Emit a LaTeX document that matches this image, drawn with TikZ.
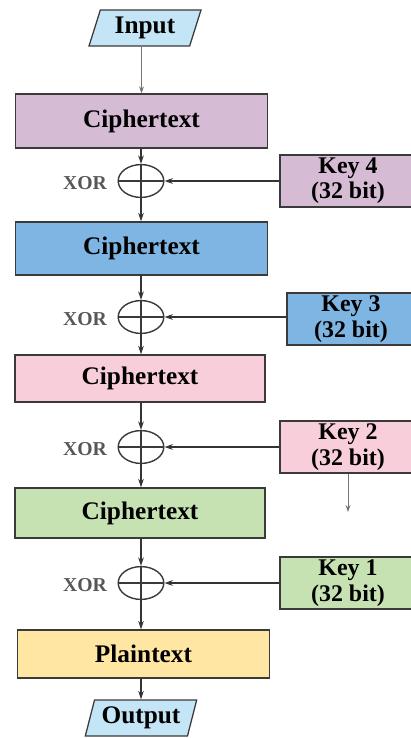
\documentclass[tikz,border=0pt]{standalone}
\usepackage{fontspec}
\setmainfont{Liberation Serif}
\usetikzlibrary{positioning, arrows.meta, shapes.geometric}
\definecolor{lilac}{HTML}{D5BCD4}
\definecolor{sky}{HTML}{7FB5E2}
\definecolor{rose}{HTML}{F9CEDB}
\definecolor{mint}{HTML}{C6E2B2}
\definecolor{sand}{HTML}{FFE7A3}
\definecolor{ice}{HTML}{C4E5F6}
\definecolor{ink}{HTML}{3A3A3A}
\tikzset{
  box/.style={draw=ink, fill=#1, line width=0.9pt, font=\fontsize{18}{20}\selectfont\bfseries,
              minimum width=6.3cm, inner sep=2pt},
  box/.default=lilac,
  key/.style={draw=ink, fill=#1, line width=0.9pt, align=center, minimum width=3.4cm,
              minimum height=1.3cm, inner sep=1pt, font=\fontsize{17}{18}\selectfont\bfseries},
  io/.style={trapezium, trapezium left angle=72, trapezium right angle=108, trapezium stretches=true,
             draw=ink, fill=ice, line width=0.9pt, minimum width=2.8cm, minimum height=0.9cm,
             inner sep=1pt, font=\fontsize{18}{20}\selectfont\bfseries},
  xor/.style={ellipse, draw=ink, line width=1pt, minimum width=1.14cm, minimum height=0.82cm, inner sep=0pt,
              path picture={\draw[ink, line width=1pt]
                (path picture bounding box.west) -- (path picture bounding box.east);}},
  xlbl/.style={font=\fontsize{14}{16}\selectfont\bfseries, text=ink!85},
  arr/.style={-{Stealth[length=6pt, width=4pt]}, line width=0.9pt, draw=ink!90!black},
  arrt/.style={-{Stealth[length=5pt, width=3.5pt]}, line width=0.6pt, draw=ink!70},
}
\begin{document}
\begin{tikzpicture}[x=0.025cm, y=-0.025cm]
  \useasboundingbox (0,0) rectangle (411,738);
  \node[io] (in) at (145,28) {Input};
  \node[box=lilac, minimum height=1.35cm] (c4) at (141.5,121) {Ciphertext};
  \node[xor] (x4) at (141,181) {};
  \node[xlbl] (l4) at (85,183) {XOR};
  \node[key=lilac] (k4) at (348,181) {Key 4\\(32 bit)};
  \node[box=sky, minimum height=1.33cm] (c3) at (141.5,248.5) {Ciphertext};
  \node[xor] (x3) at (141,317) {};
  \node[xlbl] (l3) at (85,319) {XOR};
  \node[key=sky, minimum width=3.2cm] (k3) at (351,319) {Key 3\\(32 bit)};
  \node[box=rose, minimum width=6.25cm, minimum height=1.18cm] (c2) at (140,378.5) {Ciphertext};
  \node[xor] (x2) at (141,447) {};
  \node[xlbl] (l2) at (85,449) {XOR};
  \node[key=rose] (k2) at (348,447) {Key 2\\(32 bit)};
  \coordinate (k2end) at (348,512);
  \node[box=mint, minimum width=6.25cm, minimum height=1.25cm] (c1) at (140,513) {Ciphertext};
  \node[xor] (x1) at (141,583) {};
  \node[xlbl] (l1) at (85,585) {XOR};
  \node[key=mint] (k1) at (348,583) {Key 1\\(32 bit)};
  \node[box=sand, minimum height=1.2cm] (pt) at (143.5,654) {Plaintext};
  \node[io] (out) at (141,718) {Output};
  \draw[arrt] (in.south -| c4.north) -- (c4.north);
  \foreach \a/\b/\k in {c4/x4/k4, c3/x3/k3, c2/x2/k2, c1/x1/k1} {
    \draw[arr] (\a.south -| \b.north) -- (\b.north);
    \draw[arr] (\k.west |- \b.east) -- (\b.east);
  }
  \draw[arr] (x4.south) -- (x4.south |- c3.north);
  \draw[arr] (x3.south) -- (x3.south |- c2.north);
  \draw[arr] (x2.south) -- (x2.south |- c1.north);
  \draw[arr] (x1.south) -- (x1.south |- pt.north);
  \draw[line width=1pt, draw=ink] (x4.north) -- (x4.south) (x3.north) -- (x3.south)
    (x2.north) -- (x2.south) (x1.north) -- (x1.south);
  \draw[arrt] (k2.south) -- (k2end);
  \draw[arr] (pt.south -| out.north) -- (out.north);
\end{tikzpicture}
\end{document}
